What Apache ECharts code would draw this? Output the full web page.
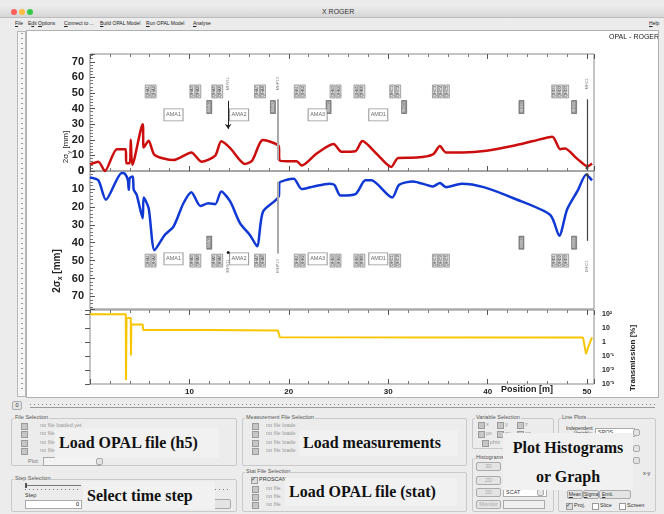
<!DOCTYPE html>
<html>
<head>
<meta charset="utf-8">
<script src="https://cdn.jsdelivr.net/npm/echarts@6/dist/echarts.min.js"></script>
<style>
body { margin:0; width:664px; height:514px; background:#ececec; position:relative; overflow:hidden; font-family:"Liberation Sans", Arial, sans-serif; }
.a { position:absolute; white-space:nowrap; }
.box { position:absolute; border:1px solid #c9c9c9; border-radius:2px; }
.lg { position:absolute; font-size:5.5px; color:#555; background:#ececec; padding:0 1px; white-space:nowrap; }
.cb { position:absolute; width:5px; height:5px; background:#c6c6c6; border:1px solid #9a9a9a; }
.t { position:absolute; font-size:5.5px; color:#999; white-space:nowrap; }
.td { position:absolute; font-size:5.5px; color:#333; white-space:nowrap; }
.btn { position:absolute; border:1px solid #aaa; border-radius:2px; background:#e4e4e4; font-size:5.5px; color:#aaa; text-align:center; line-height:7px; }
.inp { position:absolute; border:1px solid #aaa; background:#fff; font-size:5.5px; line-height:7px; }
.ov { position:absolute; background:#f1f1f1; font-family:"Liberation Serif", "DejaVu Serif", serif; font-weight:bold; font-size:16px; color:#111; white-space:nowrap; }
.menu span { position:absolute; top:20px; font-size:5px; color:#222; }
</style>
</head>
<body>
<!-- title bar + menu -->
<div class="a" style="left:0;top:6px;width:664px;height:11px;background:linear-gradient(#ebebeb,#d6d6d6);border-bottom:1px solid #bdbdbd;"></div>
<div class="a" style="left:11px;top:9px;width:6px;height:6px;border-radius:50%;background:#fc605c;"></div>
<div class="a" style="left:19px;top:9px;width:6px;height:6px;border-radius:50%;background:#fdbc40;"></div>
<div class="a" style="left:27px;top:9px;width:6px;height:6px;border-radius:50%;background:#34c84a;"></div>
<div class="a" style="left:322px;top:8px;font-size:7px;color:#333;">X ROGER</div>
<div class="menu">
  <span style="left:15px"><u>F</u>ile</span>
  <span style="left:28px">E<u>d</u>it</span>
  <span style="left:38px"><u>O</u>ptions</span>
  <span style="left:64px"><u>C</u>onnect to ...</span>
  <span style="left:100px"><u>B</u>uild OPAL Model</span>
  <span style="left:146px"><u>R</u>un OPAL Model</span>
  <span style="left:193px"><u>A</u>nalyse</span>
  <span style="left:649px"><u>H</u>elp</span>
</div>
<!-- left ruler -->
<div class="a" style="left:17px;top:31px;width:7px;height:364px;background:#f6f6f6;border:1px solid #b8b8b8;"></div>
<div class="a" style="left:21px;top:33px;width:2px;height:360px;background:repeating-linear-gradient(#999 0 1px,transparent 1px 5px);"></div>
<!-- plot canvas -->
<div id="chart" class="a" style="left:26px;top:30px;width:633px;height:368px;background:#fff;border:1px solid #b0b0b0;box-sizing:border-box;"></div>
<!-- bottom slider -->
<div class="btn" style="left:12px;top:401px;width:8px;height:7px;color:#333;">0</div>
<div class="a" style="left:30px;top:402px;width:625px;height:5px;border-bottom:1px solid #999;"></div>
<div class="a" style="left:30px;top:404px;width:625px;height:1px;background:repeating-linear-gradient(90deg,#888 0 1px,transparent 1px 4px);"></div>

<!-- File Selection -->
<div class="box" style="left:11px;top:418px;width:224px;height:46px;"></div>
<div class="lg" style="left:14px;top:414px;">File Selection</div>
<div class="cb" style="left:21px;top:423px;"></div><div class="t" style="left:40px;top:422px;">no file loaded yet</div>
<div class="cb" style="left:21px;top:431px;"></div><div class="t" style="left:40px;top:430px;">no file loaded yet</div>
<div class="cb" style="left:21px;top:440px;"></div><div class="t" style="left:40px;top:439px;">no file loaded yet</div>
<div class="cb" style="left:21px;top:448px;"></div><div class="t" style="left:40px;top:447px;">no file loaded yet</div>
<div class="td" style="left:28px;top:458px;color:#777;">Plot:</div>
<div class="inp" style="left:43px;top:457px;width:56px;height:7px;background:#f3f3f3;"></div>
<div class="btn" style="left:96px;top:458px;width:5px;height:5px;"></div>
<div class="ov" style="left:55px;top:428px;width:160px;height:30px;line-height:30px;padding-left:4px;">Load OPAL file (h5)</div>

<!-- Step Selection -->
<div class="box" style="left:11px;top:479px;width:224px;height:31px;"></div>
<div class="lg" style="left:14px;top:475px;">Step Selection</div>
<div class="a" style="left:25px;top:485px;width:56px;height:1px;background:#777;"></div>
<div class="a" style="left:25px;top:483px;width:2px;height:5px;background:#555;"></div>
<div class="a" style="left:25px;top:489px;width:56px;height:1px;background:repeating-linear-gradient(90deg,#777 0 1px,transparent 1px 4px);"></div>
<div class="td" style="left:25px;top:492px;">Step</div>
<div class="td" style="left:84px;top:492px;">Sp</div>
<div class="inp" style="left:25px;top:500px;width:53px;height:7px;text-align:right;padding-right:2px;">0</div>
<div class="inp" style="left:83px;top:500px;width:4px;height:7px;">0</div>
<div class="a" style="left:211px;top:489px;width:18px;height:1px;background:repeating-linear-gradient(90deg,#777 0 1px,transparent 1px 4px);"></div>
<div class="btn" style="left:211px;top:499px;width:18px;height:8px;"></div>
<div class="ov" style="left:83px;top:482px;width:128px;height:27px;line-height:27px;padding-left:4px;">Select time step</div>

<!-- Measurement File Selection -->
<div class="box" style="left:242px;top:418px;width:223px;height:46px;"></div>
<div class="lg" style="left:245px;top:414px;">Measurement File Selection</div>
<div class="cb" style="left:252px;top:423px;"></div><div class="t" style="left:266px;top:422px;">no file loade</div>
<div class="cb" style="left:252px;top:431px;"></div><div class="t" style="left:266px;top:430px;">no file loade</div>
<div class="cb" style="left:252px;top:440px;"></div><div class="t" style="left:266px;top:439px;">no file loade</div>
<div class="cb" style="left:252px;top:448px;"></div><div class="t" style="left:266px;top:447px;">no file loade</div>
<div class="ov" style="left:299px;top:430px;width:155px;height:26px;line-height:26px;padding-left:4px;">Load measurements</div>

<!-- Stat File Selection -->
<div class="box" style="left:242px;top:472px;width:223px;height:38px;"></div>
<div class="lg" style="left:245px;top:468px;">Stat File Selection</div>
<div class="cb" style="left:251px;top:477px;background:#ddd;"></div><div class="td" style="left:251px;top:475px;font-size:6px;">&#10003;</div><div class="td" style="left:259px;top:476px;">PROSCAN</div>
<div class="cb" style="left:252px;top:486px;"></div><div class="t" style="left:266px;top:485px;">no file</div>
<div class="cb" style="left:252px;top:494px;"></div><div class="t" style="left:266px;top:493px;">no file</div>
<div class="cb" style="left:252px;top:502px;"></div><div class="t" style="left:266px;top:501px;">no file</div>
<div class="ov" style="left:285px;top:478px;width:168px;height:28px;line-height:28px;padding-left:4px;">Load OPAL file (stat)</div>

<!-- Variable Selection -->
<div class="box" style="left:472px;top:418px;width:80px;height:29px;"></div>
<div class="lg" style="left:475px;top:414px;">Variable Selection</div>
<div class="cb" style="left:478px;top:422px;"></div><div class="t" style="left:486px;top:421px;">x</div>
<div class="cb" style="left:497px;top:422px;"></div><div class="t" style="left:505px;top:421px;">y</div>
<div class="cb" style="left:517px;top:422px;"></div><div class="t" style="left:525px;top:421px;">z</div>
<div class="cb" style="left:478px;top:431px;"></div><div class="t" style="left:486px;top:430px;">px</div>
<div class="cb" style="left:497px;top:431px;"></div><div class="t" style="left:505px;top:430px;">py</div>
<div class="cb" style="left:517px;top:431px;"></div><div class="t" style="left:525px;top:430px;">pz</div>
<div class="cb" style="left:482px;top:440px;"></div><div class="t" style="left:490px;top:439px;">phiz</div>

<!-- Histograms -->
<div class="box" style="left:472px;top:458px;width:80px;height:52px;"></div>
<div class="lg" style="left:475px;top:454px;">Histograms</div>
<div class="btn" style="left:476px;top:462px;width:23px;height:7px;">3D</div>
<div class="btn" style="left:476px;top:476px;width:23px;height:7px;">2D</div>
<div class="btn" style="left:476px;top:488px;width:23px;height:7px;">2D</div>
<div class="btn" style="left:476px;top:500px;width:23px;height:7px;">Monitor</div>
<div class="inp" style="left:503px;top:488px;width:40px;height:7px;padding-left:2px;color:#333;">SCAT</div>
<div class="btn" style="left:537px;top:489px;width:5px;height:5px;"></div>
<div class="inp" style="left:503px;top:500px;width:40px;height:7px;background:#f0f0f0;"></div>

<!-- Line Plots -->
<div class="box" style="left:558px;top:418px;width:96px;height:92px;"></div>
<div class="lg" style="left:561px;top:414px;">Line Plots</div>
<div class="td" style="left:566px;top:426px;line-height:5px;text-align:right;font-size:4.8px;">Independent<br>Variable:</div>
<div class="inp" style="left:595px;top:428px;width:36px;height:7px;padding-left:2px;color:#333;">SPOS</div>
<div class="btn" style="left:633px;top:429px;width:5px;height:5px;"></div>
<div class="btn" style="left:633px;top:445px;width:5px;height:5px;"></div>
<div class="btn" style="left:633px;top:457px;width:5px;height:5px;"></div>
<div class="td" style="left:643px;top:470px;">x-y</div>
<div class="btn" style="left:567px;top:490px;width:14px;height:7px;color:#333;font-size:5px;"><u>M</u>ean</div>
<div class="btn" style="left:583px;top:490px;width:14px;height:7px;color:#333;font-size:5px;"><u>S</u>igma</div>
<div class="btn" style="left:599px;top:490px;width:28px;height:7px;color:#333;font-size:5px;text-align:left;padding-left:2px;"><u>E</u>mit.</div>
<div class="cb" style="left:566px;top:503px;background:#ddd;"></div><div class="td" style="left:566px;top:501px;font-size:6px;">&#10003;</div><div class="td" style="left:574px;top:502px;">Proj.</div>
<div class="cb" style="left:592px;top:503px;background:#fff;"></div><div class="td" style="left:600px;top:502px;">Slice</div>
<div class="cb" style="left:619px;top:503px;background:#fff;"></div><div class="td" style="left:627px;top:502px;">Screen</div>
<div class="ov" style="left:503px;top:433px;width:130px;height:57px;text-align:center;line-height:29px;">Plot Histograms<br>or Graph</div>

<script>
// beam envelope along the line: [position m, value]
var sigmaY = [[0,4.3],[0.84,6],[1.5,0],[2.7,14],[3.6,14],[3.65,5],[4.0,5],[4.1,20],[4.26,4],[5.3,30],[5.4,15],
  [5.9,19.4],[6.5,10.3],[8.4,7],[10.2,11.9],[11.2,6],[12.6,9.9],[13.2,19],[14.1,14.7],[15.6,4.5],[16.3,6.5],
  [17.4,19.8],[19.0,15.7],[19.05,7],[19.8,6.2],[20.8,6.3],[21.3,3.5],[22.8,11.2],[24.5,17.3],[25.3,12.3],
  [26.7,12.7],[27.4,19.2],[28.8,11.2],[30.3,2.6],[31.0,8.4],[32.9,8.6],[34.5,10.6],[35.2,16],[35.8,11.9],
  [37.5,11.9],[39.9,13],[42.6,16.2],[44.6,19.2],[46.5,22],[47.3,14],[47.8,14.5],[48.9,8.4],[49.8,3.7],
  [50.1,3.2],[50.5,4.8]];
var sigmaX = [[0,3.6],[0.84,5.2],[1.6,16],[3.2,1.1],[3.5,1.5],[3.8,4.9],[3.9,10.5],[4.0,3.9],[4.3,3],[4.4,10.5],
  [4.7,13.3],[5.3,26.4],[5.4,14.8],[5.9,20.8],[6.5,44.2],[7.5,35.8],[8.4,31],[9.4,18],[10.2,11.8],[11.1,19.5],
  [11.9,18],[12.6,18.5],[13.2,11.4],[14.1,17],[15.1,29.2],[16.1,35.8],[16.8,42],[17.4,22.7],[19.0,13.9],
  [19.05,6.7],[19.8,4.9],[20.5,4.3],[21.3,10.1],[22.5,8.6],[24.1,7.1],[24.6,7.8],[25.2,13.7],[26.7,12.9],
  [27.7,5.2],[28.3,5.2],[30.4,14.8],[31.1,7.7],[32.5,5.8],[34.5,8.6],[35.2,6.7],[35.8,9],[37.4,7.1],
  [39.6,9],[42.6,15.2],[46.3,24.5],[47.2,36.1],[48.0,21.3],[49.1,10.5],[49.9,2.1],[50.5,5.2]];
var transmission = [[0,100],[3.6,100],[3.62,0.0019],[3.68,53],[4.1,53],[4.12,0.11],[4.16,18],[5.3,18],
  [5.35,7.3],[11.7,7.3],[11.75,6.8],[18.9,6.8],[19.1,2.2],[49.6,2.1],[49.9,0.14],[50.1,0.4],[50.5,2.2]];

// beamline elements
var quadPos = [5.8, 6.4, 10.3, 10.9, 12.5, 13.1, 16.8, 17.4, 20.8, 21.4, 24.4, 25.0, 26.8, 27.4,
  30.4, 31.0, 34.7, 35.3, 35.9, 46.7, 47.3, 47.9];
var quadNames = ['QHA1', 'QHA2', 'QHA3', 'QHA4', 'QHA5', 'QHA6', 'QHA7', 'QHA8', 'QHB1', 'QHB2', 'QHB3', 'QHB4',
  'QHB5', 'QHB6', 'QHC1', 'QHC2', 'QHC3', 'QHC4', 'QHC5', 'QHD1', 'QHD2', 'QHD3'];
var steerPos = [12.0, 18.4, 24.0, 31.6, 43.4, 48.7];
var steerNames = ['SHA1', 'SHA2', 'SHB1', 'SHC1', 'SHD1', 'SHD2'];
var steerPosX = [12.0, 43.4, 48.7];
var steerNamesX = ['SVA1', 'SVD1', 'SVD2'];
var monPos = [13.9, 18.9, 50.0];
var monNames = ['MHV11', 'MHP13', 'MHC1'];
var magPos = [8.4, 15.0, 22.9, 29.0];
var magNames = ['AMA1', 'AMA2', 'AMA3', 'AMD1'];

var yTicks = [0, 10, 20, 30, 40, 50, 60, 70];
var transTicks = {0.001: '10\u207B\u00B3', 0.01: '10\u207B\u00B2', 0.1: '10\u207B\u00B9', 1: '1', 10: '10', 100: '10\u00B2'};

var myChart = echarts.init(document.getElementById('chart'));

function elems(pos, names, y) {
    return pos.map(function (p, i) { return { name: names[i], value: [p, y] }; });
}

function xAx(gi, pos, labels) {
    return {
        type: 'value', gridIndex: gi, position: pos, min: 0, max: 50.7, interval: 10,
        axisLine: { show: false },
        axisTick: { show: true, inside: true, length: 5, lineStyle: { color: '#555' } },
        minorTick: { show: true, splitNumber: 5, length: 3, lineStyle: { color: '#777' } },
        splitLine: { show: false },
        axisLabel: labels ? {
            show: true, fontSize: 8, fontWeight: 'bold', color: '#222', margin: 4,
            showMinLabel: false, showMaxLabel: false
        } : { show: false }
    };
}

function yAx(gi, max, inverse) {
    return {
        type: 'value', gridIndex: gi, min: 0, max: max, interval: 10, inverse: inverse,
        axisLine: { show: false },
        axisTick: { show: true, inside: true, length: 5, lineStyle: { color: '#555' } },
        minorTick: { show: true, splitNumber: 5, length: 3, lineStyle: { color: '#777' } },
        splitLine: { show: false },
        axisLabel: {
            fontSize: 11, fontWeight: 'bold', color: '#222', margin: 6, showMaxLabel: false,
            formatter: function (v) { return yTicks.indexOf(v) >= 0 ? v : ''; }
        }
    };
}

var quadStyle = { color: '#d4d4d4', borderColor: '#666', borderWidth: 0.6 };
var quadLabel = { show: true, formatter: '{b}', rotate: 90, fontSize: 4, color: '#222', position: 'inside' };
var steerStyle = { color: '#7a7a7a', borderColor: '#444', borderWidth: 0.6 };
var steerLabel = { show: true, formatter: '{b}', rotate: 90, fontSize: 4, color: '#eee', position: 'inside' };
var monLabel = { show: true, formatter: '{b}', rotate: 90, fontSize: 4, color: '#555', position: 'inside' };
var magStyle = { color: '#fff', borderColor: '#777', borderWidth: 0.8 };
var magLabel = { show: true, formatter: '{b}', fontSize: 5.5, color: '#444', position: 'inside' };

function elemSeries(xi, yi, data, size, style, label) {
    return {
        type: 'scatter', xAxisIndex: xi, yAxisIndex: yi, symbol: 'rect', symbolSize: size,
        data: data, itemStyle: style, label: label, silent: true, z: 3
    };
}

var option = {
    animation: false,
    textStyle: { fontFamily: 'Liberation Sans' },
    grid: [
        { left: 63, top: 23, width: 504, height: 117, show: true, borderColor: '#888', borderWidth: 1 },
        { left: 63, top: 140, width: 504, height: 138, show: true, borderColor: '#888', borderWidth: 1 },
        { left: 63, top: 279, width: 504, height: 74, show: true, borderColor: '#888', borderWidth: 1 }
    ],
    xAxis: [xAx(0, 'bottom'), xAx(0, 'top'), xAx(1, 'bottom'), xAx(2, 'bottom', true), xAx(2, 'top')],
    yAxis: [
        yAx(0, 75, false),
        yAx(1, 77, true),
        {
            type: 'log', gridIndex: 2, position: 'right', min: 0.001, max: 200, logBase: 10,
            axisLine: { show: false },
            axisTick: { show: true, inside: true, length: 5, lineStyle: { color: '#555' } },
            splitLine: { show: false },
            axisLabel: {
                fontSize: 7, fontWeight: 'bold', color: '#222', margin: 8,
                formatter: function (v) {
                    var k = Object.keys(transTicks).filter(function (t) { return Math.abs(t - v) < v * 1e-6; });
                    return k.length ? transTicks[k[0]] : '';
                }
            }
        }
    ],
    graphic: [
        { type: 'text', left: 582, top: 3, style: { text: 'OPAL - ROGER', fontSize: 7, fill: '#222', fontFamily: 'Liberation Sans' } },
        { type: 'text', left: 474, top: 354, style: { text: 'Position [m]', fontSize: 9, fontWeight: 'bold', fill: '#222', fontFamily: 'Liberation Sans' } },
        {
            type: 'text', x: 606, y: 327, rotation: Math.PI / 2,
            style: { text: 'Transmission [%]', fontSize: 8, fontWeight: 'bold', fill: '#222', align: 'center', verticalAlign: 'middle', fontFamily: 'Liberation Sans' }
        },
        {
            type: 'text', x: 39, y: 116, rotation: Math.PI / 2,
            style: {
                text: '{a|2\u03C3}{s|y}{a| [mm]}', align: 'center', verticalAlign: 'middle', fill: '#222',
                rich: { a: { fontSize: 8, lineHeight: 12, fontFamily: 'Liberation Sans' }, s: { fontSize: 6, lineHeight: 12, verticalAlign: 'bottom', fontFamily: 'Liberation Sans' } }
            }
        },
        {
            type: 'text', x: 30, y: 240, rotation: Math.PI / 2,
            style: {
                text: '{a|2\u03C3}{s|x}{a| [mm]}', align: 'center', verticalAlign: 'middle', fill: '#222',
                rich: { a: { fontSize: 10, fontWeight: 'bold', lineHeight: 14, fontFamily: 'Liberation Sans' }, s: { fontSize: 7, fontWeight: 'bold', lineHeight: 14, verticalAlign: 'bottom', fontFamily: 'Liberation Sans' } }
            }
        }
    ],
    series: [
        {
            name: '2sigma y', type: 'line', xAxisIndex: 0, yAxisIndex: 0, data: sigmaY, showSymbol: false,
            smooth: 0.25, lineStyle: { color: '#cc0d0d', width: 2.5 }, z: 4,
            markLine: {
                silent: true, symbol: ['none', 'none'], label: { show: false },
                lineStyle: { type: 'solid' },
                data: [
                    [{ coord: [monPos[0], 45], lineStyle: { color: '#222', width: 1, type: 'solid' } }, { coord: [monPos[0], 27], symbol: 'arrow', symbolSize: 5 }],
                    [{ coord: [monPos[1], 46], lineStyle: { color: '#aaa', width: 2, type: 'solid' } }, { coord: [monPos[1], 7] }],
                    [{ coord: [monPos[2], 46], lineStyle: { color: '#444', width: 1.2, type: 'solid' } }, { coord: [monPos[2], 2], symbol: 'circle', symbolSize: 3 }]
                ]
            }
        },
        {
            name: '2sigma x', type: 'line', xAxisIndex: 2, yAxisIndex: 1, data: sigmaX, showSymbol: false,
            smooth: 0.25, lineStyle: { color: '#1038d4', width: 2.5 }, z: 4,
            markLine: {
                silent: true, symbol: ['none', 'none'], label: { show: false },
                lineStyle: { type: 'solid' },
                data: [
                    [{ coord: [monPos[0], 45.5], lineStyle: { color: '#222', width: 1, type: 'solid' }, symbol: 'circle', symbolSize: 3 }, { coord: [monPos[0], 45] }],
                    [{ coord: [monPos[1], 6], lineStyle: { color: '#aaa', width: 2, type: 'solid' } }, { coord: [monPos[1], 46] }],
                    [{ coord: [monPos[2], 2], lineStyle: { color: '#444', width: 1.2, type: 'solid' }, symbol: 'circle', symbolSize: 3 }, { coord: [monPos[2], 39] }]
                ]
            }
        },
        {
            name: 'transmission', type: 'line', xAxisIndex: 3, yAxisIndex: 2, data: transmission, showSymbol: false,
            lineStyle: { color: '#f7c600', width: 2 }, z: 4
        },
        // element markers, top plot
        elemSeries(0, 0, elems(quadPos, quadNames, 51), [5, 13], quadStyle, quadLabel),
        elemSeries(0, 0, elems(steerPos, steerNames, 41), [5, 13], steerStyle, steerLabel),
        elemSeries(0, 0, elems(monPos, monNames, 56), [4, 14], { color: 'rgba(0,0,0,0)' }, monLabel),
        elemSeries(0, 0, elems(magPos, magNames, 36), [19, 12], magStyle, magLabel),
        // element markers, lower plot
        elemSeries(2, 1, elems(quadPos, quadNames, 50), [5, 13], quadStyle, quadLabel),
        elemSeries(2, 1, elems(steerPosX, steerNamesX, 40), [5, 13], steerStyle, steerLabel),
        elemSeries(2, 1, elems(monPos, monNames, 53), [4, 14], { color: 'rgba(0,0,0,0)' }, monLabel),
        elemSeries(2, 1, elems(magPos, magNames, 49), [19, 12], magStyle, magLabel)
    ]
};

myChart.setOption(option);
</script>
</body>
</html>
